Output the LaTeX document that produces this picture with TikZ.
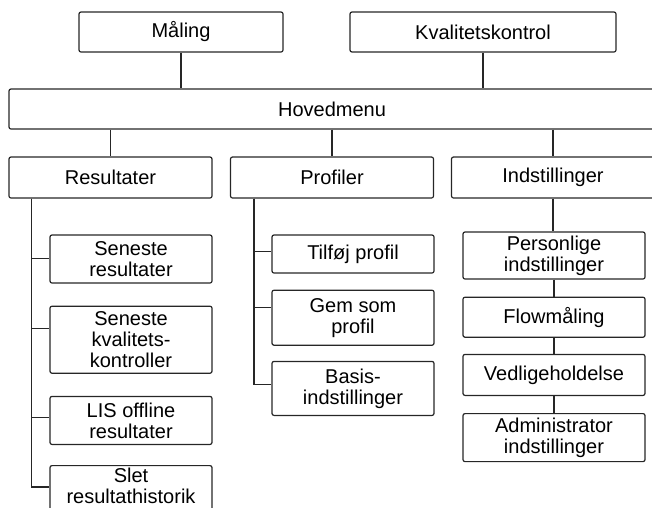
\documentclass[tikz,border=0pt]{standalone}
\usepackage{fontspec}
\setmainfont{Liberation Sans}
\usetikzlibrary{positioning}

\begin{document}
\begin{tikzpicture}[x=1pt,y=-1pt,
  box/.style={draw=black!85, line width=1.2pt, rounded corners=2pt, inner sep=0pt, align=center,
    font=\fontsize{20}{21}\selectfont, text=black},
  wide/.style={box, minimum width=203pt, minimum height=41pt},
  sub/.style={box, minimum width=162pt},
  set/.style={box, minimum width=182pt},
  link/.style={draw=black!85, line width=1.2pt}]
\useasboundingbox (0,0) rectangle (652,507);
\clip (0,0) rectangle (652,507);
% top row
\node[box, minimum width=204pt, minimum height=40pt] (maaling) at (181,32) {Måling};
\node[box, minimum width=266pt, minimum height=40pt] (kvalitet) at (483,32) {Kvalitetskontrol};
\node[box, minimum width=646pt, minimum height=40pt] (hoved) at (332,109) {Hovedmenu};
\node[wide] (resultater) at (110.5,177.5) {Resultater};
\node[wide] (profiler) at (332,177.5) {Profiler};
\node[wide] (indst) at (553,177.5) {Indstillinger};
% Resultater
\node[sub, minimum height=48pt] (senres) at (131,259) {Seneste\\resultater};
\node[sub, minimum height=67pt, below=22pt of senres] (senkval) {Seneste\\kvalitets-\\kontroller};
\node[sub, minimum height=48pt, below=22pt of senkval] (lis) {LIS offline\\resultater};
\node[sub, minimum height=48pt, text depth=8pt, below=20pt of lis] (slet) {Slet\\resultathistorik};
% Profiler
\node[sub, minimum height=38pt] (tilfoej) at (353,254) {Tilføj profil};
\node[sub, minimum height=55pt, below=16pt of tilfoej] (gem) {Gem som\\profil};
\node[sub, minimum height=54pt, below=15pt of gem] (basis) {Basis-\\indstillinger};
% Indstillinger
\node[set, minimum height=47pt] (personlig) at (554,255.5) {Personlige\\indstillinger};
\node[set, minimum height=40pt, below=17pt of personlig] (flow) {Flowmåling};
\node[set, minimum height=41pt, below=16pt of flow] (vedl) {Vedligeholdelse};
\node[set, minimum height=48pt, below=17pt of vedl] (admin) {Administrator\\indstillinger};

\draw[link] (maaling.south) -- (maaling.south |- hoved.north);
\draw[link] (kvalitet.south) -- (kvalitet.south |- hoved.north);
\draw[link] (resultater.north |- hoved.south) -- (resultater.north);
\draw[link] (profiler.north |- hoved.south) -- (profiler.north);
\draw[link] (indst.north |- hoved.south) -- (indst.north);

\draw[link] ([xshift=23pt]resultater.south west) |- ([yshift=-24pt]senres.north west);
\draw[link] ([xshift=23pt]resultater.south west) |- ([yshift=-23pt]senkval.north west);
\draw[link] ([xshift=23pt]resultater.south west) |- ([yshift=-22pt]lis.north west);
\draw[link] ([xshift=23pt]resultater.south west) |- ([yshift=-22pt]slet.north west);

\draw[link] ([xshift=24pt]profiler.south west) |- ([yshift=-17pt]tilfoej.north west);
\draw[link] ([xshift=24pt]profiler.south west) |- ([yshift=-18pt]gem.north west);
\draw[link] ([xshift=24pt]profiler.south west) |- ([yshift=-24pt]basis.north west);

\draw[link] (indst.south) -- (indst.south |- personlig.north);
\draw[link] (personlig) -- (flow) (flow) -- (vedl) (vedl) -- (admin);
\end{tikzpicture}
\end{document}
